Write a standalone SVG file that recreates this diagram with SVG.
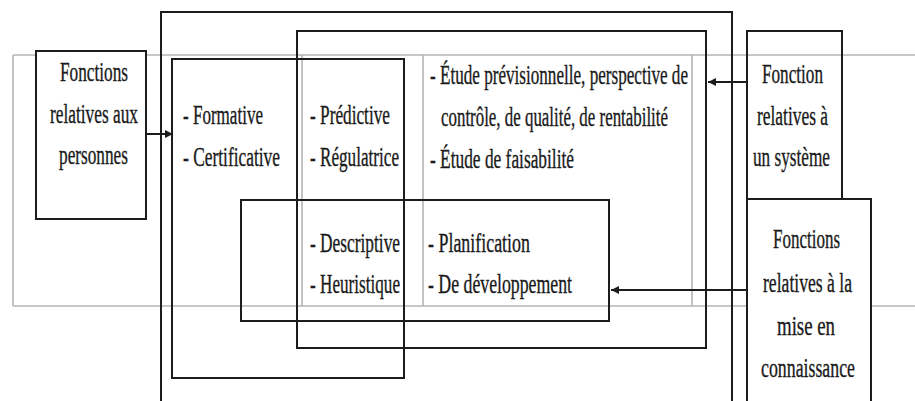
<svg xmlns="http://www.w3.org/2000/svg" width="915" height="401" viewBox="0 0 915 401">
  <style>
    .grid { stroke: #b4b4b4; stroke-width: 1.6; fill: none; }
    .frame { stroke: #1c1c1c; stroke-width: 2; fill: none; }
    .box { stroke: #1c1c1c; stroke-width: 2; fill: #ffffff; }
    .conn { stroke: #1c1c1c; stroke-width: 2; fill: none; }
    text { font-family: "Liberation Serif", "Times New Roman", serif; font-size: 27px; fill: #1a1a1a; stroke: #1a1a1a; stroke-width: 0.35; }
  </style>
  <defs>
    <marker id="arrow" viewBox="0 0 10 10" refX="10" refY="5" markerWidth="4" markerHeight="4" orient="auto-start-reverse" markerUnits="strokeWidth">
      <path d="M0,0 L10,5 L0,10 z" fill="#1c1c1c"/>
    </marker>
  </defs>

  <rect width="915" height="401" fill="#ffffff"/>

  <!-- light table grid behind the frames -->
  <g id="table">
    <line class="grid" x1="13" y1="55" x2="915" y2="55"/>
    <line class="grid" x1="13" y1="306" x2="915" y2="306"/>
    <line class="grid" x1="13" y1="55" x2="13" y2="306"/>
    <line class="grid" x1="302" y1="55" x2="302" y2="306"/>
    <line class="grid" x1="423" y1="55" x2="423" y2="306"/>
    <line class="grid" x1="692" y1="55" x2="692" y2="306"/>
  </g>

  <!-- grouping frames -->
  <g id="frame-outer">
    <rect class="frame" x="161" y="12" width="571" height="420"/>
  </g>
  <g id="frame-inner">
    <rect class="frame" x="297" y="31" width="409" height="317"/>
  </g>

  <g id="node-evaluation-types">
    <rect class="frame" x="172" y="59" width="232" height="319"/>
    <text x="183" y="124" textLength="80" lengthAdjust="spacingAndGlyphs">- Formative</text>
    <text x="183" y="166" textLength="97" lengthAdjust="spacingAndGlyphs">- Certificative</text>
    <text x="310" y="124" textLength="80" lengthAdjust="spacingAndGlyphs">- Prédictive</text>
    <text x="310" y="166" textLength="89" lengthAdjust="spacingAndGlyphs">- Régulatrice</text>
    <text x="430" y="84" textLength="258" lengthAdjust="spacingAndGlyphs">- Étude prévisionnelle, perspective de</text>
    <text x="441" y="126" textLength="227" lengthAdjust="spacingAndGlyphs">contrôle, de qualité, de rentabilité</text>
    <text x="430" y="168" textLength="144" lengthAdjust="spacingAndGlyphs">- Étude de faisabilité</text>
  </g>

  <g id="node-knowledge">
    <rect class="frame" x="241" y="200" width="368" height="121"/>
    <text x="310" y="252" textLength="90" lengthAdjust="spacingAndGlyphs">- Descriptive</text>
    <text x="310" y="293" textLength="90" lengthAdjust="spacingAndGlyphs">- Heuristique</text>
    <text x="428" y="252" textLength="102" lengthAdjust="spacingAndGlyphs">- Planification</text>
    <text x="428" y="293" textLength="144" lengthAdjust="spacingAndGlyphs">- De développement</text>
  </g>

  <g id="node-personnes">
    <rect class="box" x="36" y="51" width="110" height="168"/>
    <text x="60" y="81" textLength="68" lengthAdjust="spacingAndGlyphs">Fonctions</text>
    <text x="50" y="123" textLength="88" lengthAdjust="spacingAndGlyphs">relatives aux</text>
    <text x="59" y="164" textLength="69" lengthAdjust="spacingAndGlyphs">personnes</text>
  </g>

  <g id="node-systeme">
    <rect class="frame" x="747" y="31" width="95" height="168"/>
    <text x="762" y="83" textLength="61" lengthAdjust="spacingAndGlyphs">Fonction</text>
    <text x="757" y="125" textLength="71" lengthAdjust="spacingAndGlyphs">relatives à</text>
    <text x="753" y="166" textLength="77" lengthAdjust="spacingAndGlyphs">un système</text>
  </g>

  <g id="node-connaissance">
    <rect class="box" x="747" y="199" width="124" height="230"/>
    <text x="773" y="248" textLength="67" lengthAdjust="spacingAndGlyphs">Fonctions</text>
    <text x="763" y="292" textLength="89" lengthAdjust="spacingAndGlyphs">relatives à la</text>
    <text x="777" y="335" textLength="58" lengthAdjust="spacingAndGlyphs">mise en</text>
    <text x="761" y="377" textLength="94" lengthAdjust="spacingAndGlyphs">connaissance</text>
  </g>

  <!-- connectors -->
  <g id="connectors">
    <line class="conn" x1="146" y1="134" x2="173" y2="134" marker-end="url(#arrow)"/>
    <line class="conn" x1="747" y1="82" x2="708" y2="82" marker-end="url(#arrow)"/>
    <line class="conn" x1="747" y1="290" x2="611" y2="290" marker-end="url(#arrow)"/>
  </g>
</svg>
